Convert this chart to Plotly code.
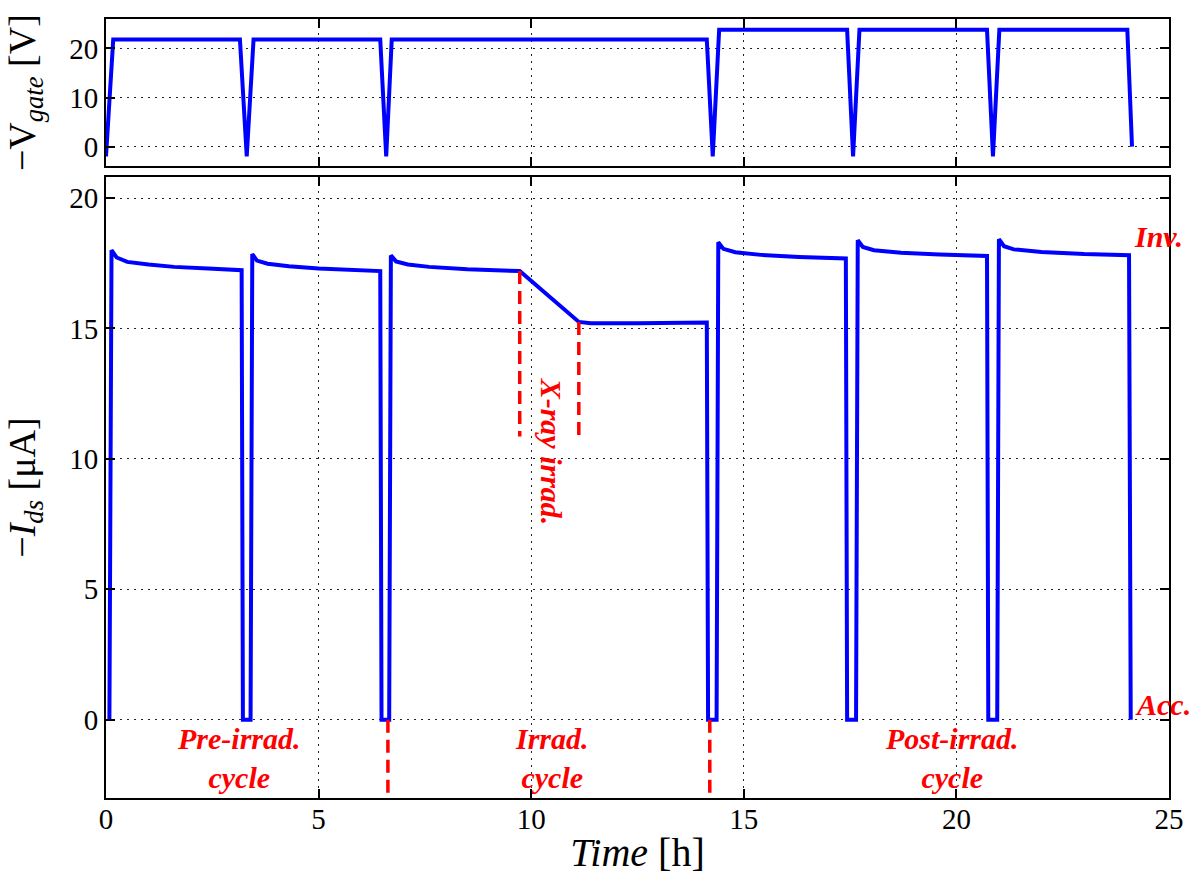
import plotly.graph_objects as go

# ---- data ----
t_gate = [0.0, 0.17, 3.15, 3.31, 3.47, 6.45, 6.59, 6.72, 14.13, 14.27, 14.42,
          17.43, 17.57, 17.72, 20.72, 20.86, 21.01, 24.02, 24.13]
v_gate = [-2, 21.8, 21.8, -2, 21.8, 21.8, -2, 21.8, 21.8, -2, 23.8,
          23.8, -2, 23.8, 23.8, -2, 23.8, 23.8, 0]

t_ids = [0.08, 0.13, 0.25, 0.5, 1.0, 1.6, 2.4, 3.19, 3.22, 3.40,
         3.44, 3.55, 3.8, 4.3, 5.0, 5.8, 6.45, 6.48, 6.66,
         6.70, 6.82, 7.1, 7.6, 8.5, 9.73, 11.12, 11.4, 12.5, 14.13, 14.16, 14.36,
         14.40, 14.52, 14.8, 15.4, 16.3, 17.40, 17.43, 17.64,
         17.68, 17.8, 18.06, 18.7, 19.6, 20.72, 20.75, 20.96,
         21.0, 21.12, 21.35, 22.0, 23.0, 24.06, 24.10]
i_ds = [0, 18.0, 17.72, 17.55, 17.45, 17.36, 17.3, 17.23, 0, 0,
        17.85, 17.6, 17.48, 17.38, 17.3, 17.24, 17.2, 0, 0,
        17.8, 17.57, 17.45, 17.36, 17.27, 17.2, 15.25, 15.2, 15.2, 15.23, 0, 0,
        18.3, 18.05, 17.92, 17.82, 17.74, 17.68, 0, 0,
        18.38, 18.12, 18.0, 17.9, 17.83, 17.78, 0, 0,
        18.42, 18.15, 18.03, 17.93, 17.85, 17.81, 0]

# red dashed markers
cycle_marks_t = [6.63, 14.2]
cycle_marks_y = [0, -3]
xray_marks_t = [9.73, 11.12]
xray_marks_top = [17.2, 15.25]
xray_marks_bottom = 10.86

FONT = "Liberation Serif, Times New Roman, serif"
BLUE = "#0000ff"
RED = "#ff0000"

fig = go.Figure()
fig.add_trace(go.Scatter(x=t_gate, y=v_gate, mode="lines",
                         line=dict(color=BLUE, width=4), xaxis="x2", yaxis="y2",
                         showlegend=False))
fig.add_trace(go.Scatter(x=t_ids, y=i_ds, mode="lines",
                         line=dict(color=BLUE, width=4), xaxis="x", yaxis="y",
                         showlegend=False))
for tm in cycle_marks_t:
    fig.add_trace(go.Scatter(x=[tm, tm], y=cycle_marks_y, mode="lines",
                             line=dict(color=RED, width=3.5, dash="13px,7px"),
                             showlegend=False))
for tm, top in zip(xray_marks_t, xray_marks_top):
    fig.add_trace(go.Scatter(x=[tm, tm], y=[top, xray_marks_bottom], mode="lines",
                             line=dict(color=RED, width=3.5, dash="13px,7px"),
                             showlegend=False))


def axis_style(**kw):
    d = dict(
        showline=True, linecolor="black", linewidth=2, mirror="ticks",
        ticks="inside", ticklen=9, tickwidth=1.5, tickcolor="black",
        showgrid=True, gridcolor="#222", griddash="2px,5px", gridwidth=1.2,
        zeroline=False, tickfont=dict(family=FONT, size=29, color="black"),
    )
    d.update(kw)
    return d


fig.update_layout(
    width=1199, height=879,
    margin=dict(l=106, r=30, t=19, b=81),
    paper_bgcolor="white", plot_bgcolor="white",
    font=dict(family=FONT, color="black", size=29),
    xaxis=axis_style(domain=[0, 1], range=[0, 25], tickvals=[0, 5, 10, 15, 20, 25],
                     anchor="y", ticklabelstandoff=-6,
                     title=dict(text="<i>Time</i> [h]", font=dict(family=FONT, size=40),
                                standoff=4)),
    yaxis=axis_style(domain=[0, 0.797], range=[-3, 20.8], tickvals=[0, 5, 10, 15, 20],
                     anchor="x",
                     title=dict(text="−<i>I</i><sub><i>ds</i></sub> [μA]",
                                font=dict(family=FONT, size=38), standoff=22)),
    xaxis2=axis_style(domain=[0, 1], range=[0, 25], tickvals=[0, 5, 10, 15, 20, 25],
                      showticklabels=False, anchor="y2", matches="x"),
    yaxis2=axis_style(domain=[0.811, 1], range=[-4, 26], tickvals=[0, 10, 20],
                      anchor="x2",
                      title=dict(text="−V<sub><i>gate</i></sub> [V]",
                                 font=dict(family=FONT, size=38), standoff=22)),
)

red_font = dict(family=FONT, size=30, color=RED)
annots = [
    ("<b><i>Inv.</i></b>", 24.75, 18.53, 0),
    ("<b><i>Acc.</i></b>", 24.87, 0.6, 0),
    ("<b><i>Pre-irrad.<br>cycle</i></b>", 3.12, -1.45, 0),
    ("<b><i>Irrad.<br>cycle</i></b>", 10.5, -1.45, 0),
    ("<b><i>Post-irrad.<br>cycle</i></b>", 19.9, -1.45, 0),
    ("<b><i>X-ray irrad.</i></b>", 10.47, 10.27, 90),
]
for txt, x, y, ang in annots:
    fig.add_annotation(text=txt, x=x, y=y, xref="x", yref="y", showarrow=False,
                       font=red_font, textangle=ang, xanchor="center", yanchor="middle")

fig.write_html("out.html")
